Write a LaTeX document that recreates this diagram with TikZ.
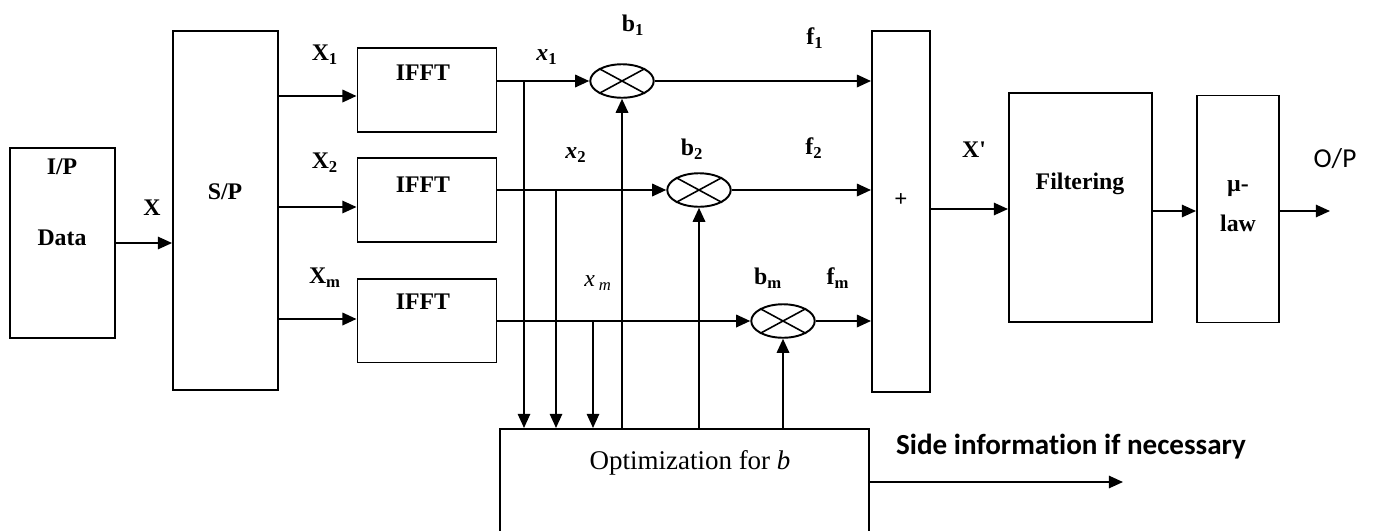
\documentclass[tikz,border=0pt]{standalone}
\usepackage{fontspec}
\setmainfont{Liberation Serif}
\newfontfamily\sidefont[Ligatures=NoCommon]{Carlito}
\usetikzlibrary{arrows.meta,shapes.geometric}
\tikzset{
  blk/.style={draw,line width=1.1pt,minimum width=#1,inner sep=0pt},
  mult/.style={draw,ellipse,line width=1.1pt,minimum width=36pt,minimum height=19pt,inner sep=0pt},
  lbl/.style={font=\fontsize{13.5}{16}\selectfont\bfseries,inner sep=0pt},
  conn/.style={line width=1.3pt,-{Triangle[length=8pt,width=7pt]}},
  thin/.style={line width=1pt,-{Triangle[length=8pt,width=7pt]}},
}
\begin{document}
\begin{tikzpicture}[x=0.567pt,y=-0.567pt]
\useasboundingbox (0,0) rectangle (1373,530);
\clip (0,0) rectangle (1373,530);
% boxes
\node[blk=59.5pt,minimum height=107.7pt] (inp) at (62.5,243) {};
\node[blk=59.5pt,minimum height=204pt] (sp) at (225.5,210.5) {};
\node[blk=78.8pt,minimum height=47.6pt] (f1) at (427,90) {};
\node[blk=78.8pt,minimum height=47.6pt] (f2) at (427,200) {};
\node[blk=78.8pt,minimum height=47.6pt] (f3) at (427,320.5) {};
\node[blk=32.9pt,minimum height=204.7pt] (plus) at (901,211.5) {};
\node[blk=81.1pt,minimum height=129.8pt] (filt) at (1080.5,207.5) {};
\node[blk=46.5pt,minimum height=128.7pt] (mu) at (1238,209) {};
\node[blk=209.2pt,minimum height=70pt] (opt) at (684.5,490.7) {};
% multipliers
\node[mult] (m1) at (622,81) {};
\node[mult] (m2) at (699,190) {};
\node[mult] (m3) at (783,321) {};
\foreach \m in {m1,m2,m3}{
  \draw[line width=0.9pt] (\m.north west) -- (\m.south east);
  \draw[line width=0.9pt] (\m.north east) -- (\m.south west);
}
% texts in boxes
\node[lbl] (tip) at (62,167) {I/P};
\node[lbl] (tdata) at (62,238) {Data};
\node[lbl] (tsp) at (225,192) {S/P};
\node[lbl] (ti1) at (423,73) {IFFT};
\node[lbl] (ti2) at (423,185) {IFFT};
\node[lbl] (ti3) at (423,302) {IFFT};
\node[lbl,font=\fontsize{13}{15}\selectfont\bfseries] (tplus) at (901,200) {+};
\node[lbl] (tfilt) at (1080,184) {Filtering};
\node[lbl] (tmu) at (1238,189) {µ-};
\node[lbl] (tlaw) at (1238,223) {law};
\node[font=\fontsize{15.3}{18}\selectfont,inner sep=0pt] (topt) at (690,463) {Optimization for \textit{b}};
% coordinates for rows
\coordinate (r1) at (0,96);
\coordinate (r2) at (0,207);
\coordinate (r3) at (0,319);
\coordinate (q1) at (0,81);
\coordinate (q2) at (0,190);
\coordinate (q3) at (0,321);
\coordinate (v1) at (524,0);
\coordinate (v2) at (556,0);
\coordinate (v3) at (593,0);
\coordinate (ph) at (0,209);
\coordinate (mh) at (0,211);
\coordinate (sh) at (0,482);
\coordinate (opend) at (1330,211);
\coordinate (send) at (1123,482);
% connectors
\draw[thin] (inp.east) -- (inp.east -| sp.west);
\draw[conn] (sp.east |- r1) -- (f1.west |- r1);
\draw[thin] (sp.east |- r2) -- (f2.west |- r2);
\draw[conn] (sp.east |- r3) -- (f3.west |- r3);
\draw[conn] (f1.east |- q1) -- (m1.west);
\draw[conn] (f2.east |- q2) -- (m2.west);
\draw[conn] (f3.east |- q3) -- (m3.west);
\draw[conn] (m1.east) -- (m1.east -| plus.west);
\draw[conn] (m2.east) -- (m2.east -| plus.west);
\draw[conn] (m3.east) -- (m3.east -| plus.west);
\draw[thin] (v1 |- q1) -- (v1 |- opt.north);
\draw[thin] (v2 |- q2) -- (v2 |- opt.north);
\draw[thin] (v3 |- q3) -- (v3 |- opt.north);
\draw[conn] (opt.north -| m1.south) -- (m1.south);
\draw[conn] (opt.north -| m2.south) -- (m2.south);
\draw[conn] (opt.north -| m3.south) -- (m3.south);
\draw[thin] (plus.east |- ph) -- (filt.west |- ph);
\draw[thin] (filt.east |- mh) -- (mu.west |- mh);
\draw[thin] (mu.east |- mh) -- (opend);
\draw[thin] (opt.east |- sh) -- (send);
% labels
\node[lbl] (lx) at (152,208) {X};
\node[lbl] (lx1) at (325,55) {X\textsubscript{1}};
\node[lbl] (lx2) at (325,163) {X\textsubscript{2}};
\node[lbl] (lxm) at (325,278) {X\textsubscript{m}};
\node[lbl] (sx1) at (547,57) {\textit{x}\textsubscript{1}};
\node[lbl] (sx2) at (576,155) {\textit{x}\textsubscript{2}};
\node[font=\fontsize{13.5}{16}\selectfont,inner sep=0pt] (sxm) at (598,283) {\textit{x}\,\textsubscript{\textit{m}}};
\node[lbl] (lb1) at (633,25) {b\textsubscript{1}};
\node[lbl] (lb2) at (692,149) {b\textsubscript{2}};
\node[lbl] (lbm) at (768,278) {b\textsubscript{m}};
\node[lbl] (lf1) at (815,38) {f\textsubscript{1}};
\node[lbl] (lf2) at (814,148) {f\textsubscript{2}};
\node[lbl] (lfm) at (838,278) {f\textsubscript{m}};
\node[lbl] (lxp) at (974,150) {X\textquotesingle};
\node[font=\sidefont\fontsize{15.5}{18}\selectfont,inner sep=0pt] (lop) at (1335,159) {O/P};
\node[font=\sidefont\bfseries\fontsize{16.5}{19}\selectfont,inner sep=0pt] (lside) at (1071,447) {Side information if necessary};
\end{tikzpicture}
\end{document}
